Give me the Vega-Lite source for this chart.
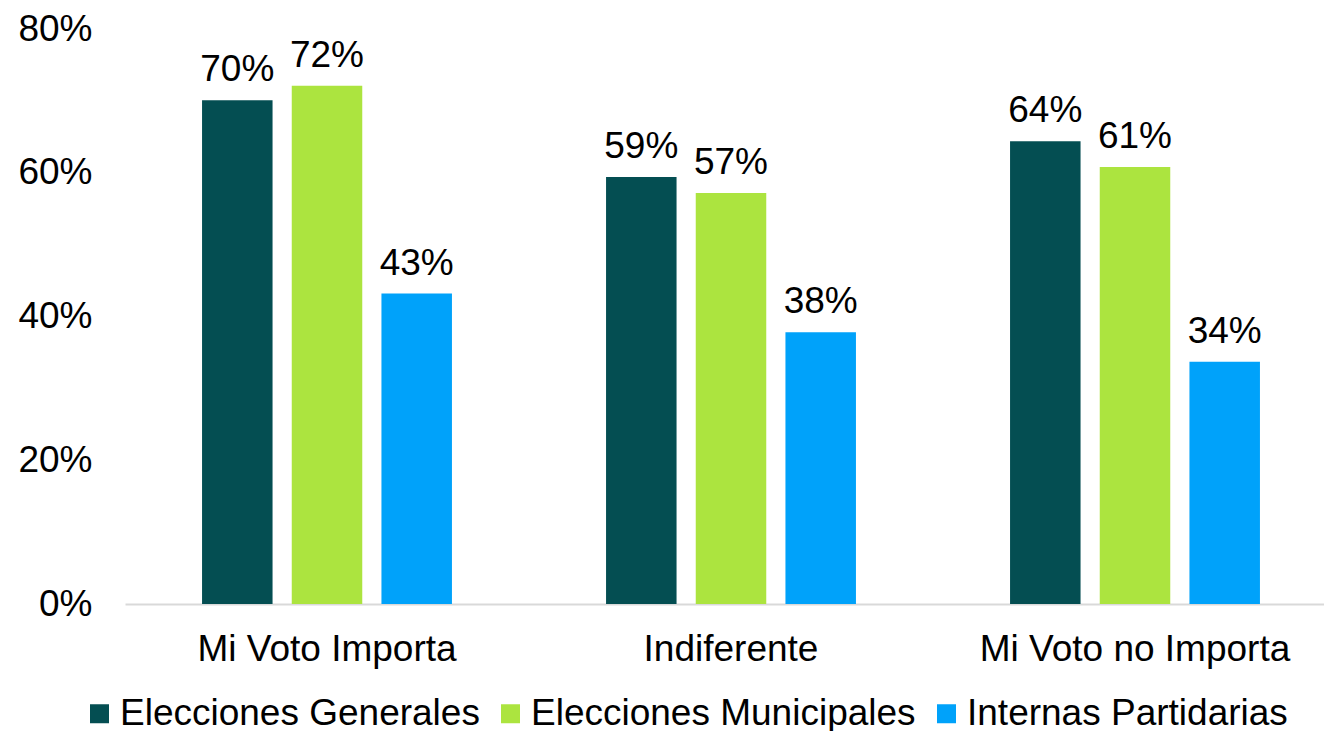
{
  "$schema": "https://vega.github.io/schema/vega-lite/v6.json",
  "width": 1199,
  "height": 575,
  "autosize": {"type": "none"},
  "padding": {"left": 125, "top": 29, "right": 0, "bottom": 127},
  "background": "white",
  "config": {"view": {"stroke": null}, "font": "Liberation Sans"},
  "data": {
    "values": [
      {"categoria": "Mi Voto Importa", "serie": "Elecciones Generales", "valor": 0.701},
      {"categoria": "Mi Voto Importa", "serie": "Elecciones Municipales", "valor": 0.721},
      {"categoria": "Mi Voto Importa", "serie": "Internas Partidarias", "valor": 0.432},
      {"categoria": "Indiferente", "serie": "Elecciones Generales", "valor": 0.594},
      {"categoria": "Indiferente", "serie": "Elecciones Municipales", "valor": 0.572},
      {"categoria": "Indiferente", "serie": "Internas Partidarias", "valor": 0.378},
      {"categoria": "Mi Voto no Importa", "serie": "Elecciones Generales", "valor": 0.644},
      {"categoria": "Mi Voto no Importa", "serie": "Elecciones Municipales", "valor": 0.608},
      {"categoria": "Mi Voto no Importa", "serie": "Internas Partidarias", "valor": 0.337}
    ]
  },
  "encoding": {
    "x": {
      "field": "categoria",
      "type": "nominal",
      "sort": ["Mi Voto Importa", "Indiferente", "Mi Voto no Importa"],
      "scale": {"range": [0, 1212], "paddingInner": 0, "paddingOuter": 0},
      "axis": {
        "title": null,
        "ticks": false,
        "labelAngle": 0,
        "labelFontSize": 37,
        "labelColor": "#000000",
        "labelPadding": 27,
        "labelLimit": 0,
        "domainColor": "#D9D9D9",
        "domainWidth": 2
      }
    },
    "xOffset": {
      "field": "serie",
      "sort": ["Elecciones Generales", "Elecciones Municipales", "Internas Partidarias"],
      "scale": {"paddingInner": 0.214, "paddingOuter": 0.859}
    },
    "y": {
      "field": "valor",
      "type": "quantitative",
      "scale": {"domain": [0, 0.8], "nice": false},
      "axis": {
        "title": null,
        "values": [0, 0.2, 0.4, 0.6, 0.8],
        "format": ".0%",
        "grid": false,
        "domain": false,
        "ticks": false,
        "labelFontSize": 37,
        "labelColor": "#000000",
        "labelPadding": 33
      }
    }
  },
  "layer": [
    {
      "mark": {"type": "bar"},
      "encoding": {
        "color": {
          "field": "serie",
          "type": "nominal",
          "sort": ["Elecciones Generales", "Elecciones Municipales", "Internas Partidarias"],
          "scale": {
            "domain": ["Elecciones Generales", "Elecciones Municipales", "Internas Partidarias"],
            "range": ["#044E52", "#ACE43F", "#00A2FA"]
          },
          "legend": {
            "title": null,
            "orient": "none",
            "legendX": -44,
            "legendY": 666,
            "direction": "horizontal",
            "columns": 3,
            "symbolType": "square",
            "symbolSize": 361,
            "symbolStrokeWidth": 0,
            "labelFontSize": 37,
            "labelColor": "#000000",
            "labelOffset": 2,
            "labelLimit": 0,
            "columnPadding": 12,
            "padding": 0
          }
        }
      }
    },
    {
      "mark": {"type": "text", "baseline": "alphabetic", "dy": -19, "fontSize": 37, "color": "#000000"},
      "encoding": {
        "text": {"field": "valor", "type": "quantitative", "format": ".0%"}
      }
    }
  ]
}
